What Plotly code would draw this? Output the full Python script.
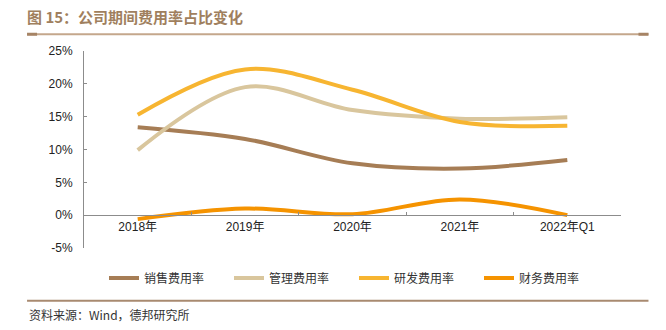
import plotly.graph_objects as go

categories = ["2018年", "2019年", "2020年", "2021年", "2022年Q1"]
sales = [13.4, 11.6, 7.9, 7.1, 8.4]
admin = [9.9, 19.5, 16.0, 14.7, 14.9]
rnd = [15.3, 22.2, 19.1, 14.2, 13.6]
finance = [-0.6, 1.0, 0.15, 2.4, 0.0]

series_names = ["销售费用率", "管理费用率", "研发费用率", "财务费用率"]
series_values = [sales, admin, rnd, finance]
colors = ["#a67d55", "#d9c69d", "#f7b531", "#f59300"]

title_text = "图 15：公司期间费用率占比变化"
source_text = "资料来源：Wind，德邦研究所"
yticks = [-5, 0, 5, 10, 15, 20, 25]

W, H = 666, 330
L, R, T, B = 84, 44.5, 50.5, 82
pw = W - L - R
ph = H - T - B

def px2x(px):
    return (px - L) / pw

def py2y(py):
    return (H - B - py) / ph

fig = go.Figure()
for name, vals, col in zip(series_names, series_values, colors):
    fig.add_trace(go.Scatter(
        x=categories, y=vals, name=name, mode="lines",
        line=dict(color=col, width=4, shape="spline", smoothing=1.0),
    ))

fig.update_layout(
    width=W, height=H,
    margin=dict(l=L, r=R, t=T, b=B, autoexpand=False),
    paper_bgcolor="white", plot_bgcolor="white",
    font=dict(family="Liberation Sans, Noto Sans CJK SC", size=12, color="#222"),
    showlegend=True,
    legend=dict(
        orientation="h", xref="container", yref="container",
        x=104 / W, y=1 - 278 / H, xanchor="left", yanchor="middle",
        font=dict(family="Noto Sans CJK SC", size=12, color="#333"),
        entrywidth=80, entrywidthmode="pixels",
        bgcolor="rgba(0,0,0,0)",
    ),
    title=dict(
        text="<b>" + title_text + "</b>",
        x=27 / W, xanchor="left", xref="container",
        y=1 - 18 / H, yanchor="middle", yref="container",
        font=dict(family="Noto Sans CJK SC", size=15, color="#a07f5e"),
    ),
    xaxis=dict(
        type="category", anchor="free", position=5 / 30,
        showline=True, linecolor="#8c8c8c", linewidth=1,
        ticks="inside", ticklen=3, tickcolor="#8c8c8c", tickson="boundaries",
        showgrid=False, zeroline=False,
        tickfont=dict(family="Liberation Sans, Noto Sans CJK SC", size=12, color="#222"),
        range=[-0.5, 4.5], fixedrange=True,
    ),
    yaxis=dict(
        range=[-5, 25], tickvals=yticks, ticktext=[f"{v}%" for v in yticks],
        showline=True, linecolor="#8c8c8c", linewidth=1,
        ticks="inside", ticklen=3, tickcolor="#8c8c8c",
        showgrid=False, zeroline=False,
        ticklabelstandoff=8,
        tickfont=dict(family="Liberation Sans", size=12, color="#222"),
    ),
    shapes=[
        dict(type="line", xref="paper", yref="paper",
             x0=px2x(27), x1=px2x(649), y0=py2y(33.7), y1=py2y(33.7),
             line=dict(color="#c4a78c", width=2)),
        dict(type="line", xref="paper", yref="paper",
             x0=px2x(27), x1=px2x(37), y0=py2y(33.7), y1=py2y(33.7),
             line=dict(color="#a68465", width=3)),
        dict(type="line", xref="paper", yref="paper",
             x0=px2x(639), x1=px2x(649), y0=py2y(33.7), y1=py2y(33.7),
             line=dict(color="#a68465", width=3)),
        dict(type="line", xref="paper", yref="paper",
             x0=px2x(27), x1=px2x(649), y0=py2y(301), y1=py2y(301),
             line=dict(color="#a88a70", width=2)),
    ],
    annotations=[
        dict(text=source_text, xref="paper", yref="paper",
             x=px2x(27), y=py2y(315), xanchor="left", yanchor="middle",
             showarrow=False,
             font=dict(family="Noto Sans CJK SC", size=12, color="#333")),
    ],
)

fig.write_html("out.html")
